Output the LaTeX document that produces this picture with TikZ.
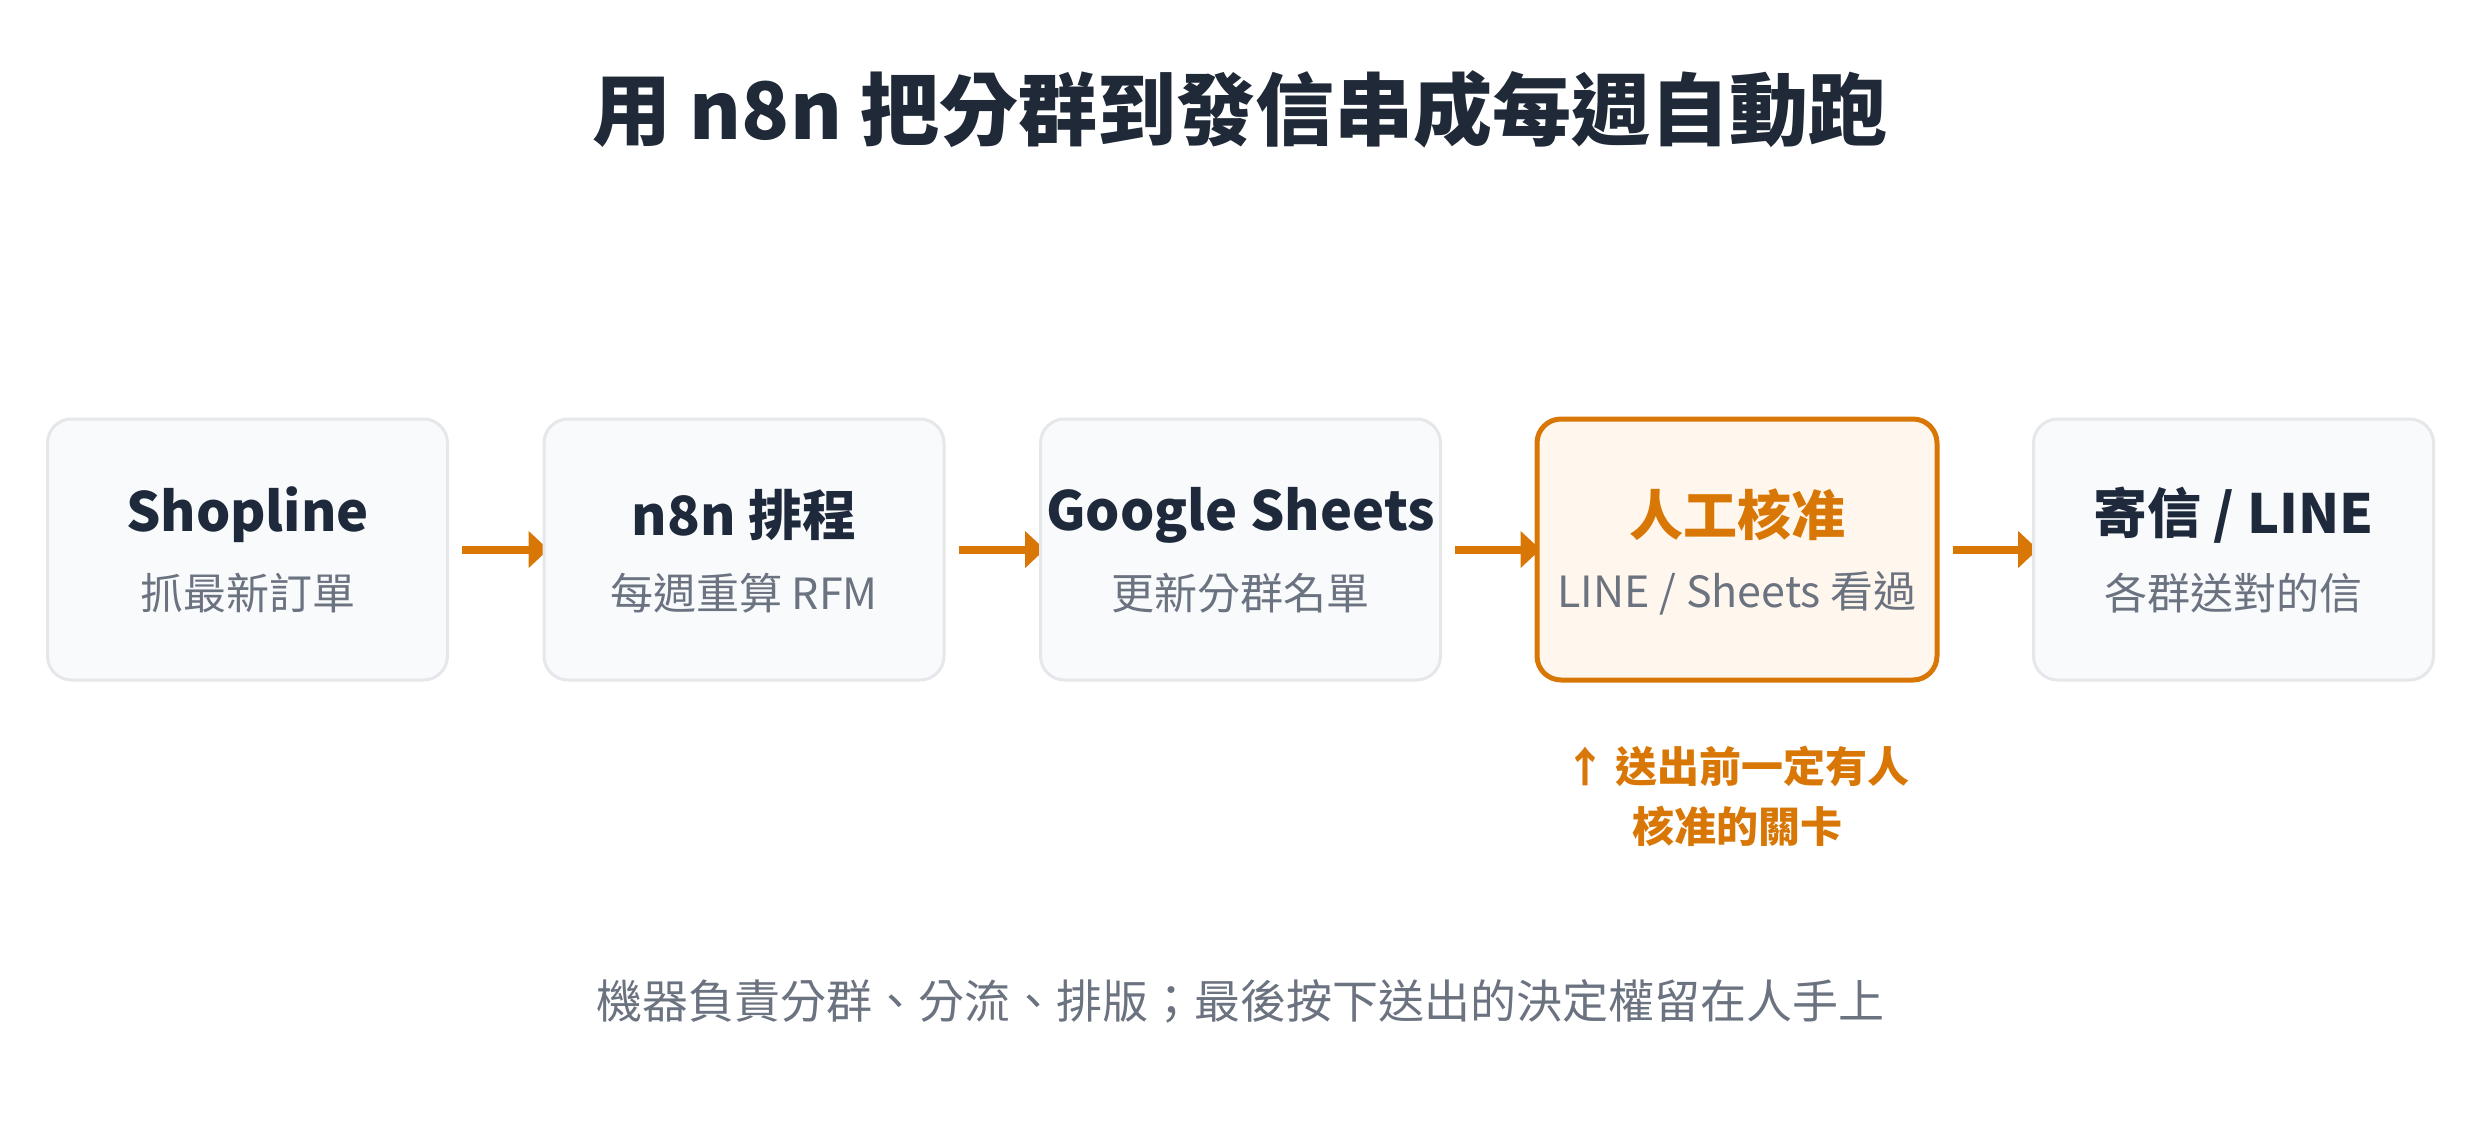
\documentclass[tikz,border=0pt]{standalone}
\usepackage{fontspec}
\setmainfont{Noto Sans CJK TC}
\usetikzlibrary{arrows.meta,backgrounds}
\definecolor{titlec}{HTML}{1F2937}
\definecolor{boxtext}{HTML}{1E293B}
\definecolor{subc}{HTML}{6B7280}
\definecolor{boxfill}{HTML}{F8FAFC}
\definecolor{boxline}{HTML}{E5E7EB}
\definecolor{orng}{HTML}{D97706}
\definecolor{orngfill}{HTML}{FFF7ED}
\tikzset{
  stepbox/.style={draw=boxline, fill=boxfill, line width=3pt, rounded corners=24pt,
    minimum width=400pt, minimum height=261pt, inner sep=0pt},
  keybox/.style={stepbox, draw=orng, fill=orngfill, line width=5pt},
  boxtitle/.style={font=\fontsize{54}{60}\selectfont\bfseries, text=boxtext, inner sep=0pt},
  boxsub/.style={font=\fontsize{43}{50}\selectfont, text=subc, inner sep=0pt},
  flow/.style={draw=orng, line width=8pt, -{Triangle[length=20pt,width=36pt]}},
}
\begin{document}
\begin{tikzpicture}[x=1pt,y=-1pt]
\useasboundingbox (0,0) rectangle (2480,1120);
\node[font=\fontsize{79}{90}\selectfont\bfseries, text=titlec, inner sep=0pt] (title) at (1240,109) {用 n8n 把分群到發信串成每週自動跑};

\node[stepbox] (b1) at (247.5,549.5) {};
\node[stepbox] (b2) at (744,549.5) {};
\node[stepbox] (b3) at (1240.5,549.5) {};
\node[keybox]  (b4) at (1737,549.5) {};
\node[stepbox] (b5) at (2233.5,549.5) {};

\node[boxtitle] (t1) at (247.5,515) {Shopline};
\node[boxsub]   (s1) at (247.5,593) {抓最新訂單};
\node[boxtitle] (t2) at (744,515) {n8n 排程};
\node[boxsub]   (s2) at (744,593) {每週重算 RFM};
\node[boxtitle] (t3) at (1240.5,515) {Google Sheets};
\node[boxsub]   (s3) at (1240.5,593) {更新分群名單};
\node[boxtitle, text=orng] (t4) at (1737,515) {人工核准};
\node[boxsub]   (s4) at (1737,593) {LINE / Sheets 看過};
\node[boxtitle] (t5) at (2233.5,515) {寄信 / LINE};
\node[boxsub]   (s5) at (2233.5,593) {各群送對的信};

\node[font=\fontsize{42}{60}\selectfont\bfseries, text=orng, align=center, inner sep=0pt] (note) at (1737,796) {↑ 送出前一定有人\\核准的關卡};

\node[font=\fontsize{46}{50}\selectfont, text=subc, inner sep=0pt] (foot) at (1240,1001) {機器負責分群、分流、排版；最後按下送出的決定權留在人手上};

\begin{pgfonlayer}{background}
\fill[white] (0,0) rectangle (2480,1120);
\draw[flow] ([xshift=13pt]b1.east) -- ([xshift=6pt]b2.west);
\draw[flow] ([xshift=13pt]b2.east) -- ([xshift=6pt]b3.west);
\draw[flow] ([xshift=13pt]b3.east) -- ([xshift=6pt]b4.west);
\draw[flow] ([xshift=13pt]b4.east) -- ([xshift=6pt]b5.west);
\end{pgfonlayer}
\end{tikzpicture}
\end{document}
